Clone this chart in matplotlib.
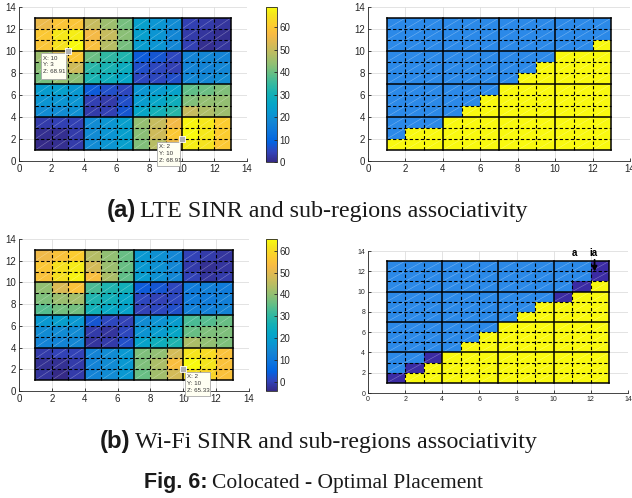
import numpy as np
import matplotlib
matplotlib.use("Agg")
import matplotlib.pyplot as plt
from matplotlib.colors import LinearSegmentedColormap, ListedColormap
from matplotlib.patches import Rectangle

# ============================================================
# DADOS LIDOS DA FIGURA
# linhas de cima (y=12..13) para baixo (y=1..2), colunas x=1..12
# ============================================================

lte_sinr = [
    [55, 59, 59, 50, 45, 41, 24, 21, 19, 4, 3, 2],
    [60, 66, 67, 56, 50, 43, 24, 21, 18, 3, 2, 1],
    [59, 65, 68.91, 58, 48, 41, 23, 21, 18, 4, 1, 2],
    [45, 52, 60, 40, 34, 32, 8, 7, 5, 17, 18, 17],
    [43, 46, 51, 33, 31, 28, 6, 5, 4, 17, 17, 18],
    [41, 44, 43, 31, 29, 26, 5, 5, 6, 18, 18, 19],
    [23, 24, 22, 8, 6, 5, 21, 23, 25, 39, 40, 42],
    [21, 21, 21, 4, 3, 6, 23, 26, 29, 42, 44, 44],
    [19, 19, 20, 3, 4, 7, 26, 30, 33, 50, 47, 45],
    [3, 4, 4, 19, 21, 24, 44, 50, 56, 68, 66, 61],
    [1, 1, 3, 19, 21, 24, 43, 51, 60, 68.91, 66, 61],
    [0, 1, 3, 19, 21, 24, 42, 48, 55, 67, 65, 60],
]

wifi_sinr = [
    [52, 55, 57, 44, 40, 36, 18, 16, 14, 0, -1, -2],
    [56, 61, 63, 48, 41, 36, 18, 16, 14, -1, -3, -2],
    [55, 61, 64, 54, 43, 35, 19, 16, 14, 0, -2, -1],
    [40, 49, 55, 33, 28, 26, 4, 3, 1, 11, 12, 11],
    [38, 41, 42, 28, 26, 22, 1, 0, 1, 11, 11, 12],
    [34, 37, 37, 26, 23, 21, 0, 1, 2, 12, 12, 13],
    [18, 20, 18, 3, 1, 0, 15, 17, 19, 33, 34, 36],
    [15, 15, 15, -1, -2, 1, 17, 19, 22, 36, 38, 38],
    [13, 13, 14, -2, -1, 2, 21, 25, 28, 43, 40, 38],
    [-1, 0, 0, 13, 15, 18, 38, 40, 48, 62, 60, 55],
    [-3, -3, -1, 13, 15, 18, 38, 43, 54, 65.33, 62, 55],
    [-2, -4.1, -1, 13, 15, 18, 36, 42, 48, 61, 59, 55],
]

# associatividade: topo da regiao amarela por coluna (x=1..12)
lte_topo_amarelo = [2, 3, 3, 4, 5, 6, 7, 8, 9, 10, 10, 11]
wifi_topo_amarelo = [1, 2, 3, 4, 5, 6, 7, 8, 9, 9, 10, 11]
# celulas (x, y) sem associacao no caso Wi-Fi
wifi_roxo = [(1, 1), (2, 2), (3, 3), (10, 9), (11, 10), (12, 11), (12, 12)]

# datatips
tips_lte = [((3, 10), (1.33, 7.45, 1.53, 2.35), ["X: 10", "Y: 3", "Z: 68.91"]),
            ((10, 2), (8.45, -0.43, 1.43, 2.18), ["X: 2", "Y: 10", "Z: 68.91"])]
tips_wifi = [((10, 2), (10.1, -0.5, 1.5, 2.28), ["X: 2", "Y: 10", "Z: 65.33"])]

# ============================================================
# ESTILO
# ============================================================

parula_pts = [
    (0.2081, 0.1663, 0.5292), (0.1959, 0.2645, 0.7279), (0.0117, 0.3875, 0.8820),
    (0.0498, 0.4586, 0.8641), (0.0793, 0.5200, 0.8312), (0.0343, 0.5966, 0.8199),
    (0.0228, 0.6535, 0.7768), (0.0843, 0.6928, 0.7062), (0.2178, 0.7250, 0.6193),
    (0.3953, 0.7459, 0.5244), (0.5709, 0.7485, 0.4494), (0.7184, 0.7411, 0.3905),
    (0.8507, 0.7299, 0.3360), (0.9739, 0.7314, 0.2666), (0.9880, 0.8066, 0.1794),
    (0.9589, 0.8949, 0.1132), (0.9763, 0.9831, 0.0538),
]
pos = [i * 4 / 63 for i in range(16)] + [1.0]
parula = LinearSegmentedColormap.from_list("parula", list(zip(pos, parula_pts)))
assoc_cmap = ListedColormap(["#3b2ba3", "#2b89e8", "#f9f90f"])

W, H = 632, 498
AX_COR = "#262626"
plt.rcParams["font.family"] = ["Liberation Sans", "DejaVu Sans"]

fig = plt.figure(figsize=(W / 100, H / 100), dpi=100)


def px(l, t, r, b):
    return [l / W, 1 - b / H, (r - l) / W, (b - t) / H]


def estilo_eixo(ax, fs):
    ax.set_xlim(0, 14)
    ax.set_ylim(0, 14)
    ax.set_xticks(range(0, 15, 2))
    ax.set_yticks(range(0, 15, 2))
    ax.grid(True, color="#dedede", linewidth=0.6)
    ax.set_axisbelow(True)
    for s in ["top", "right"]:
        ax.spines[s].set_visible(False)
    for s in ["left", "bottom"]:
        ax.spines[s].set_color(AX_COR)
        ax.spines[s].set_linewidth(0.6)
    ax.tick_params(direction="in", length=2.5, width=0.6, labelsize=fs,
                   colors=AX_COR, pad=2)


def malha(ax):
    for i in range(1, 14):
        if (i - 1) % 3 == 0:
            kw = dict(color="black", linewidth=1.1, linestyle="-")
        else:
            kw = dict(color="black", linewidth=0.8, linestyle=(0, (3, 2)))
        ax.plot([i, i], [1, 13], zorder=3, **kw)
        ax.plot([1, 13], [i, i], zorder=3, **kw)
    # costuras brancas dos triangulos
    for c in range(-11, 12):
        x0, x1 = max(1, 1 - c), min(13, 13 - c)
        ax.plot([x0, x1], [x0 + c, x1 + c], color="white", linewidth=0.4,
                alpha=0.35, zorder=2)


def datatip(ax, ponto, caixa, linhas):
    bx, by, bw, bh = caixa
    ax.add_patch(Rectangle((bx, by), bw, bh, facecolor="#fffff2",
                           edgecolor="#a8a8a8", linewidth=0.6, zorder=6,
                           clip_on=False))
    for k, txt in enumerate(linhas):
        ax.text(bx + 0.12, by + bh - 0.45 - k * 0.62, txt, fontsize=4.4,
                color="#333333", va="center", ha="left", zorder=7, clip_on=False)
    ax.plot(*ponto, marker="s", markersize=4, markerfacecolor="#b0b0b0",
            markeredgecolor="white", markeredgewidth=0.6, zorder=8, clip_on=False)


def mapa_sinr(ax_pos, cax_pos, valores, tips):
    ax = fig.add_axes(px(*ax_pos))
    z = np.flipud(np.array(valores, dtype=float))
    edges = np.arange(1, 14)
    m = ax.pcolormesh(edges, edges, z, cmap=parula, vmin=z.min(), vmax=z.max(),
                      zorder=1)
    estilo_eixo(ax, 7)
    malha(ax)
    for ponto, caixa, linhas in tips:
        datatip(ax, ponto, caixa, linhas)
    cax = fig.add_axes(px(*cax_pos))
    cb = fig.colorbar(m, cax=cax, ticks=range(0, 70, 10))
    cb.outline.set_linewidth(0.6)
    cb.outline.set_edgecolor(AX_COR)
    cax.tick_params(direction="in", length=2.5, width=0.6, labelsize=7,
                    colors=AX_COR, pad=2)
    return ax


def mapa_assoc(ax_pos, topo, roxo, fs):
    ax = fig.add_axes(px(*ax_pos))
    z = np.ones((12, 12))
    for j, t in enumerate(topo):
        z[: t - 1, j] = 2
    for (x, y) in roxo:
        z[y - 1, x - 1] = 0
    edges = np.arange(1, 14)
    ax.pcolormesh(edges, edges, z, cmap=assoc_cmap, vmin=0, vmax=2, zorder=1)
    estilo_eixo(ax, fs)
    malha(ax)
    return ax


# ============================================================
# PAINEIS
# ============================================================

mapa_sinr((19, 7, 247, 161), (266, 7, 277, 162), lte_sinr, tips_lte)
mapa_assoc((368, 7, 630, 161), lte_topo_amarelo, [], 7)

mapa_sinr((19, 239, 249, 391), (266, 239, 277, 391), wifi_sinr, tips_wifi)
ax4 = mapa_assoc((368, 251, 628, 393), wifi_topo_amarelo, wifi_roxo, 5)
ax4.text(11.1, 13.8, "a", fontsize=7, fontweight="bold", ha="center",
         va="center", clip_on=False)
ax4.text(12.15, 13.8, "ia", fontsize=7, fontweight="bold", ha="center",
         va="center", clip_on=False)
ax4.annotate("", xy=(12.2, 11.7), xytext=(12.2, 13.4),
             arrowprops=dict(arrowstyle="-|>", color="black", lw=1.3,
                             mutation_scale=7), zorder=9)

# ============================================================
# LEGENDAS
# ============================================================

renderer = fig.canvas.get_renderer()


def legenda(x_px, y_px, negrito, resto, tamanho):
    t1 = fig.text(x_px / W, 1 - y_px / H, negrito, fontfamily="Liberation Sans",
                  fontweight="bold", fontsize=tamanho, va="baseline",
                  color="#1a1a1a")
    bb = t1.get_window_extent(renderer)
    fig.text((bb.x1 + 4) / W, 1 - y_px / H, resto, fontfamily="Liberation Serif",
             fontsize=tamanho, va="baseline", color="#1a1a1a")


legenda(107, 217, "(a)", "LTE SINR and sub-regions associativity", 17.3)
legenda(100, 448, "(b)", "Wi-Fi SINR and sub-regions associativity", 17.3)
legenda(144, 488, "Fig. 6:", "Colocated - Optimal Placement", 15.5)

fig.savefig("out.png", dpi=100)
